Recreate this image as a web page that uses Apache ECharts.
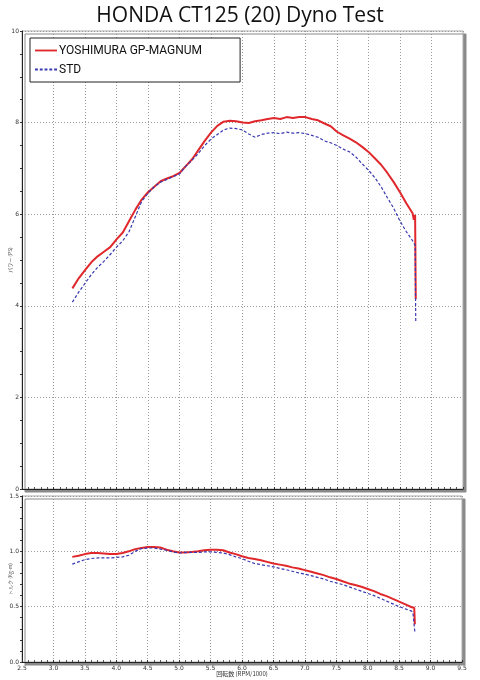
<!DOCTYPE html>
<html>
<head>
<meta charset="utf-8">
<script src="https://cdn.jsdelivr.net/npm/echarts@6/dist/echarts.min.js"></script>
<style>
  html, body { margin: 0; padding: 0; background: #fff; }
  #chart { width: 480px; height: 680px; }
</style>
</head>
<body>
<div id="chart"></div>
<script>
// engine speed (x1000 rpm)
const rpm = [
  3.3, 3.4, 3.5, 3.6, 3.7, 3.8, 3.9, 4.0, 4.1, 4.2,
  4.3, 4.4, 4.5, 4.6, 4.7, 4.8, 4.9, 5.0, 5.1, 5.2,
  5.3, 5.4, 5.5, 5.6, 5.7, 5.8, 5.9, 6.0, 6.1, 6.2,
  6.3, 6.4, 6.5, 6.6, 6.7, 6.8, 6.9, 7.0, 7.1, 7.2,
  7.3, 7.4, 7.5, 7.6, 7.7, 7.8, 7.9, 8.0, 8.1, 8.2,
  8.3, 8.4, 8.5, 8.6, 8.7, 8.72, 8.74, 8.75,
];

// power (PS)
const powerYoshimura = [
  4.38, 4.6, 4.78, 4.95, 5.08, 5.18, 5.28, 5.45, 5.6, 5.85,
  6.1, 6.32, 6.48, 6.6, 6.72, 6.78, 6.83, 6.9, 7.05, 7.2,
  7.4, 7.6, 7.78, 7.93, 8.02, 8.04, 8.03, 8.0, 7.99, 8.03,
  8.05, 8.08, 8.1, 8.08, 8.12, 8.1, 8.12, 8.12, 8.08, 8.05,
  7.98, 7.92, 7.8, 7.72, 7.65, 7.57, 7.47, 7.36, 7.22, 7.08,
  6.9, 6.7, 6.48, 6.24, 6.02, 5.88, 5.98, 4.15,
];
const powerStd = [
  4.08, 4.3, 4.49, 4.68, 4.84, 4.97, 5.12, 5.28, 5.42, 5.62,
  5.95, 6.28, 6.46, 6.6, 6.7, 6.76, 6.82, 6.88, 7.05, 7.18,
  7.33, 7.5, 7.64, 7.74, 7.84, 7.88, 7.87, 7.84, 7.75, 7.68,
  7.74, 7.77, 7.78, 7.76, 7.79, 7.77, 7.78, 7.76, 7.72, 7.68,
  7.6, 7.56, 7.5, 7.42, 7.36, 7.25, 7.1, 6.96, 6.8, 6.6,
  6.36, 6.13, 5.85, 5.62, 5.42, 5.38, 5.32, 3.65,
];

// torque (kg-m)
const torqueYoshimura = [
  0.95, 0.96, 0.975, 0.985, 0.985, 0.98, 0.975, 0.975, 0.985, 1.0,
  1.02, 1.03, 1.04, 1.04, 1.035, 1.015, 1.0, 0.99, 0.99, 0.995,
  1.0, 1.01, 1.015, 1.015, 1.01, 0.99, 0.975, 0.955, 0.94, 0.93,
  0.92, 0.905, 0.89, 0.88, 0.87, 0.855, 0.845, 0.83, 0.815, 0.8,
  0.785, 0.765, 0.75, 0.73, 0.71, 0.695, 0.68, 0.66, 0.64, 0.615,
  0.595, 0.57, 0.545, 0.52, 0.495, 0.48, 0.49, 0.34,
];
const torqueStd = [
  0.885, 0.905, 0.925, 0.935, 0.94, 0.94, 0.94, 0.945, 0.95, 0.965,
  1.0, 1.025, 1.03, 1.03, 1.02, 1.01, 0.995, 0.985, 0.99, 0.99,
  0.99, 0.995, 0.995, 0.99, 0.985, 0.97, 0.95, 0.935, 0.91, 0.89,
  0.88, 0.87, 0.86, 0.845, 0.835, 0.82, 0.805, 0.795, 0.78, 0.765,
  0.75, 0.73, 0.715, 0.7, 0.68, 0.66, 0.64, 0.62, 0.6, 0.575,
  0.55, 0.525, 0.5, 0.48, 0.46, 0.44, 0.44, 0.27,
];

const seriesNames = ["YOSHIMURA GP-MAGNUM", "STD"];

const RED = "#e0282c";
const BLUE = "#3838b0";

const pairs = (ys) => rpm.map((x, i) => [x, ys[i]]);

const gridLine = { show: true, lineStyle: { color: "#9a9a9a", type: [1, 2], width: 1 } };
const tinyLabel = { fontSize: 6, color: "#333", fontFamily: "DejaVu Sans" };
const frame = {
  show: true,
  outerBoundsMode: "none",
  containLabel: false,
  backgroundColor: "#fff",
  borderColor: "#aaa",
  borderWidth: 1,
  shadowColor: "#8a8a8a",
  shadowBlur: 0,
  shadowOffsetX: 3,
  shadowOffsetY: 3,
};

const xAxisBase = {
  type: "value",
  min: 2.5,
  max: 9.5,
  interval: 0.5,
  axisLine: { show: true, onZero: false, lineStyle: { color: "#222", width: 1 } },
  axisTick: { show: true, length: 2, inside: true, lineStyle: { color: "#333" } },
  minorTick: { show: true, splitNumber: 5, length: 2, lineStyle: { color: "#555" } },
  splitLine: gridLine,
};

// legend swatches: solid bar / dashed bar
const solidIcon = "path://M0,0h24v2h-24z";
const dashIcon = "path://M0,0h3v2h-3z M5,0h3v2h-3z M10,0h3v2h-3z M15,0h3v2h-3z M20,0h3v2h-3z";

const yName = { fontSize: 5, color: "#555", fontFamily: "Noto Sans CJK JP" };

const chart = echarts.init(document.getElementById("chart"));
chart.setOption({
  animation: false,
  backgroundColor: "#fff",
  title: {
    text: "HONDA CT125 (20) Dyno Test",
    left: "center",
    top: 1,
    textStyle: { fontSize: 21, fontWeight: "normal", color: "#111", fontFamily: "Open Sans" },
  },
  legend: {
    orient: "vertical",
    left: 30,
    top: 38,
    padding: [4, 38, 4, 5],
    itemGap: 2,
    itemWidth: 22,
    itemHeight: 2,
    backgroundColor: "#fff",
    borderColor: "#222",
    borderWidth: 1,
    borderRadius: 0,
    data: [
      { name: seriesNames[0], icon: solidIcon, itemStyle: { color: RED } },
      { name: seriesNames[1], icon: dashIcon, itemStyle: { color: BLUE } },
    ],
    textStyle: {
      fontSize: 12,
      lineHeight: 17,
      color: "#111",
      fontFamily: "Roboto",
      padding: [0, 0, 0, -3],
    },
  },
  grid: [
    { left: 22, top: 31, width: 441, height: 458, ...frame },
    { left: 22, top: 496, width: 440, height: 166, ...frame },
  ],
  xAxis: [
    { ...xAxisBase, gridIndex: 0, axisLabel: { show: false } },
    {
      ...xAxisBase,
      gridIndex: 1,
      name: "回転数 (RPM/1000)",
      nameLocation: "middle",
      nameGap: 9,
      nameMoveOverlap: false,
      nameTextStyle: { fontSize: 6, color: "#333", fontFamily: "Noto Sans CJK JP" },
      axisLabel: { ...tinyLabel, margin: 3, formatter: (v) => v.toFixed(1) },
    },
  ],
  yAxis: [
    {
      type: "value",
      gridIndex: 0,
      min: 0,
      max: 10,
      interval: 2,
      name: "パワー (PS)",
      nameLocation: "middle",
      nameGap: 9,
      nameRotate: 90,
      nameMoveOverlap: false,
      nameTextStyle: yName,
      axisLine: { show: true, lineStyle: { color: "#222", width: 1 } },
      axisTick: { show: true, length: 2, lineStyle: { color: "#333" } },
      minorTick: { show: true, splitNumber: 4, length: 2, lineStyle: { color: "#333" } },
      axisLabel: { ...tinyLabel, margin: 3 },
      splitLine: gridLine,
    },
    {
      type: "value",
      gridIndex: 1,
      min: 0,
      max: 1.5,
      interval: 0.5,
      name: "トルク (Kg-m)",
      nameLocation: "middle",
      nameGap: 9,
      nameRotate: 90,
      nameMoveOverlap: false,
      nameTextStyle: yName,
      axisLine: { show: true, lineStyle: { color: "#222", width: 1 } },
      axisTick: { show: true, length: 2, lineStyle: { color: "#333" } },
      minorTick: { show: true, splitNumber: 5, length: 2, lineStyle: { color: "#333" } },
      axisLabel: { ...tinyLabel, margin: 3, formatter: (v) => v.toFixed(1) },
      splitLine: gridLine,
    },
  ],
  series: [
    {
      name: seriesNames[0],
      type: "line",
      xAxisIndex: 0,
      yAxisIndex: 0,
      symbol: "none",
      data: pairs(powerYoshimura),
      itemStyle: { color: RED },
      lineStyle: { color: RED, width: 2 },
      z: 3,
    },
    {
      name: seriesNames[1],
      type: "line",
      xAxisIndex: 0,
      yAxisIndex: 0,
      symbol: "none",
      data: pairs(powerStd),
      itemStyle: { color: BLUE },
      lineStyle: { color: BLUE, width: 1.2, type: [3, 2] },
      z: 4,
    },
    {
      name: seriesNames[0],
      type: "line",
      xAxisIndex: 1,
      yAxisIndex: 1,
      symbol: "none",
      data: pairs(torqueYoshimura),
      itemStyle: { color: RED },
      lineStyle: { color: RED, width: 2 },
      z: 3,
    },
    {
      name: seriesNames[1],
      type: "line",
      xAxisIndex: 1,
      yAxisIndex: 1,
      symbol: "none",
      data: pairs(torqueStd),
      itemStyle: { color: BLUE },
      lineStyle: { color: BLUE, width: 1.2, type: [3, 2] },
      z: 4,
    },
  ],
});

window.addEventListener("resize", () => {
  chart.resize();
});
</script>
</body>
</html>
